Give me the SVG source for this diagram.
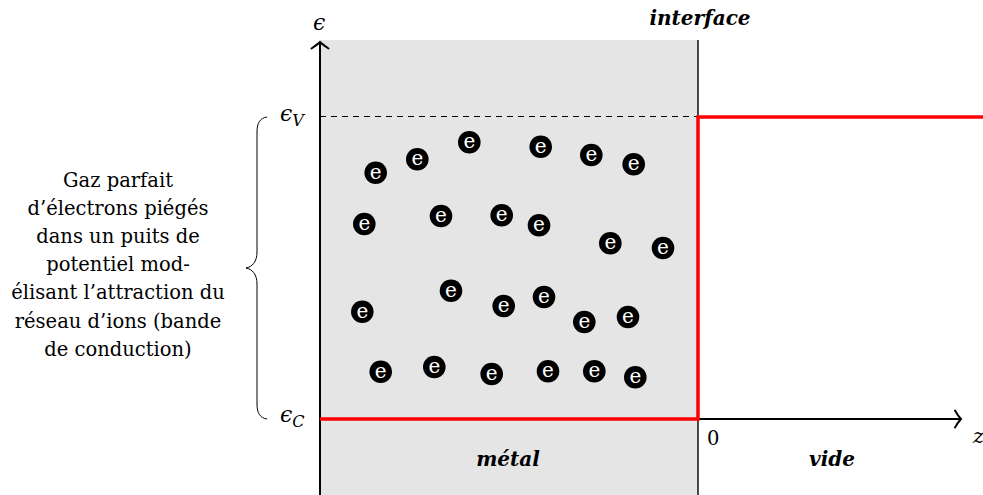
<svg xmlns="http://www.w3.org/2000/svg" width="983" height="495" viewBox="0 0 983 495">
<style>
.ax{stroke:#000;stroke-width:2;fill:none}
.red{stroke:#ff0000;stroke-width:3.5;fill:none}
.lbl{font-family:"DejaVu Serif",serif;font-size:19.5px;fill:#000}
.bi{font-family:"DejaVu Serif",serif;font-size:20px;font-weight:bold;font-style:italic;fill:#000}
.m{font-family:"DejaVu Serif",serif;font-style:italic;fill:#000}
.el circle{fill:#000}
.el text{font-family:"DejaVu Serif",serif;font-size:20px;fill:#fff;text-anchor:middle}
</style>
<rect x="320" y="40" width="378" height="455" fill="#e5e5e5"/>
<g id="connectors">
<line x1="320" y1="116.5" x2="698" y2="116.5" stroke="#000" stroke-width="1.1" stroke-dasharray="6,5"/>
<line x1="698" y1="40" x2="698" y2="495" stroke="#000" stroke-width="1.4"/>
<line class="ax" x1="320" y1="495" x2="320" y2="43"/>
<path class="ax" d="M311.5 48.5 C315 46 318 44 320 42 C322 44 325 46 328.5 48.5" stroke-linecap="round"/>
<line class="ax" x1="320" y1="419" x2="960" y2="419"/>
<path class="ax" d="M955 410.5 C957 414 959 417 961 419 C959 421 957 424 955 427.5" stroke-linecap="round"/>
<path class="red" d="M320 419 H698 V117 H983"/>
<path d="M267 117 C260 118 257 123 257 132 L257 252 C257 262 252 267 246 268 C252 269 257 274 257 284 L257 404 C257 413 260 418 267 419" stroke="#000" stroke-width="1" fill="none"/>
</g>
<g id="labels">
<text class="m" x="313" y="30" font-size="22">ϵ</text>
<text class="m" x="280" y="121" font-size="22">ϵ<tspan font-size="16" dy="5">V</tspan></text>
<text class="m" x="280" y="422" font-size="22">ϵ<tspan font-size="16" dy="5">C</tspan></text>
<text class="m" x="973" y="443" font-size="21">z</text>
<text class="lbl" x="707" y="445" font-size="20">0</text>
<text class="bi" x="700" y="25" text-anchor="middle">interface</text>
<text class="bi" x="508" y="466" text-anchor="middle">métal</text>
<text class="bi" x="832" y="466" text-anchor="middle">vide</text>
</g>
<g id="description" class="lbl" text-anchor="middle">
<text x="118" y="187">Gaz parfait</text>
<text x="118" y="215">d’électrons piégés</text>
<text x="118" y="243">dans un puits de</text>
<text x="118" y="271">potentiel mod-</text>
<text x="118" y="299">élisant l’attraction du</text>
<text x="118" y="328">réseau d’ions (bande</text>
<text x="118" y="356">de conduction)</text>
</g>
<g id="electrons" class="el">
<g id="e1"><circle cx="375.7" cy="172.7" r="11.3"/><text x="375.7" y="178.7">e</text></g>
<g id="e2"><circle cx="417.3" cy="159.3" r="11.3"/><text x="417.3" y="165.3">e</text></g>
<g id="e3"><circle cx="469.3" cy="142.3" r="11.3"/><text x="469.3" y="148.3">e</text></g>
<g id="e4"><circle cx="540.7" cy="146.7" r="11.3"/><text x="540.7" y="152.7">e</text></g>
<g id="e5"><circle cx="591.3" cy="155" r="11.3"/><text x="591.3" y="161">e</text></g>
<g id="e6"><circle cx="633.7" cy="164.3" r="11.3"/><text x="633.7" y="170.3">e</text></g>
<g id="e7"><circle cx="364.3" cy="224" r="11.3"/><text x="364.3" y="230">e</text></g>
<g id="e8"><circle cx="441" cy="216" r="11.3"/><text x="441" y="222">e</text></g>
<g id="e9"><circle cx="501.7" cy="215.3" r="11.3"/><text x="501.7" y="221.3">e</text></g>
<g id="e10"><circle cx="539" cy="225.3" r="11.3"/><text x="539" y="231.3">e</text></g>
<g id="e11"><circle cx="610.3" cy="243.3" r="11.3"/><text x="610.3" y="249.3">e</text></g>
<g id="e12"><circle cx="663" cy="248" r="11.3"/><text x="663" y="254">e</text></g>
<g id="e13"><circle cx="362.3" cy="311.7" r="11.3"/><text x="362.3" y="317.7">e</text></g>
<g id="e14"><circle cx="451" cy="290.7" r="11.3"/><text x="451" y="296.7">e</text></g>
<g id="e15"><circle cx="503.7" cy="306" r="11.3"/><text x="503.7" y="312">e</text></g>
<g id="e16"><circle cx="544" cy="297" r="11.3"/><text x="544" y="303">e</text></g>
<g id="e17"><circle cx="584.3" cy="322" r="11.3"/><text x="584.3" y="328">e</text></g>
<g id="e18"><circle cx="628" cy="317" r="11.3"/><text x="628" y="323">e</text></g>
<g id="e19"><circle cx="380.7" cy="371.7" r="11.3"/><text x="380.7" y="377.7">e</text></g>
<g id="e20"><circle cx="434.3" cy="367" r="11.3"/><text x="434.3" y="373">e</text></g>
<g id="e21"><circle cx="491.7" cy="374" r="11.3"/><text x="491.7" y="380">e</text></g>
<g id="e22"><circle cx="548" cy="371.3" r="11.3"/><text x="548" y="377.3">e</text></g>
<g id="e23"><circle cx="594.3" cy="371.3" r="11.3"/><text x="594.3" y="377.3">e</text></g>
<g id="e24"><circle cx="635.3" cy="377.3" r="11.3"/><text x="635.3" y="383.3">e</text></g>
</g>
</svg>
